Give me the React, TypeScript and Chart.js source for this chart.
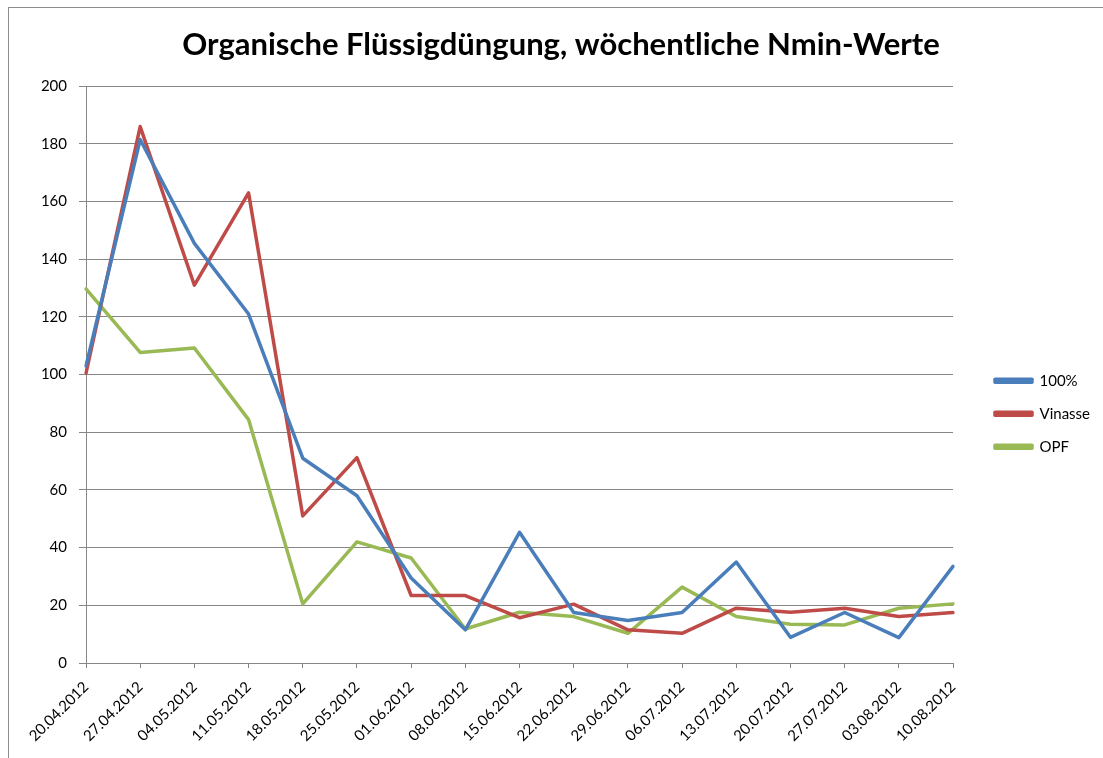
import React, { useEffect, useRef } from "react";
import { Chart, registerables } from "chart.js";

Chart.register(...registerables);

const categories = [
  "20.04.2012", "27.04.2012", "04.05.2012", "11.05.2012", "18.05.2012", "25.05.2012",
  "01.06.2012", "08.06.2012", "15.06.2012", "22.06.2012", "29.06.2012", "06.07.2012",
  "13.07.2012", "20.07.2012", "27.07.2012", "03.08.2012", "10.08.2012",
];
const values100 = [103, 181.5, 145.5, 121, 71, 58, 29.5, 11.5, 45.3, 17.5, 14.7, 17.5, 35, 8.9, 17.5, 8.8, 33.5];
const valuesVinasse = [100.5, 186, 131, 163, 51, 71.2, 23.4, 23.4, 15.7, 20.4, 11.5, 10.3, 19, 17.6, 19, 16.1, 17.5];
const valuesOPF = [129.7, 107.7, 109.2, 84.4, 20.5, 42, 36.4, 11.8, 17.6, 16.1, 10.3, 26.3, 16.1, 13.4, 13.2, 19, 20.5];
const seriesNames = ["100%", "Vinasse", "OPF"];
const seriesColors = ["#4A7EBB", "#BE4B48", "#98B954"];
const titleText = "Organische Flüssigdüngung, wöchentliche Nmin-Werte";

const GRID = "#868686";

export default function App() {
  const ref = useRef<HTMLCanvasElement | null>(null);
  useEffect(() => {
    document.documentElement.style.overflow = "hidden";
    document.body.style.overflow = "hidden";
    const canvas = ref.current!;
    const all = [values100, valuesVinasse, valuesOPF];
    const chart = new Chart(canvas, {
      type: "line",
      data: {
        labels: categories,
        datasets: all.map((d, i) => ({
          label: seriesNames[i],
          data: d,
          borderColor: seriesColors[i],
          backgroundColor: seriesColors[i],
          borderWidth: 3.5,
          pointRadius: 0,
          tension: 0,
          borderJoinStyle: "round" as const,
          borderCapStyle: "round" as const,
          yAxisID: "y",
        })),
      },
      options: {
        responsive: false,
        animation: false,
        devicePixelRatio: 1,
        layout: { padding: { left: 13, right: 3, top: 0, bottom: 0 } },
        plugins: {
          tooltip: { enabled: false },
          title: {
            display: true,
            text: titleText,
            color: "#000",
            font: { family: "Lato", size: 31, weight: "bold" },
            padding: { top: 18, bottom: 23 },
          },
          legend: {
            position: "right",
            fullSize: false,
            align: "center",
            title: { display: true, text: "", font: { size: 12 }, padding: { top: 32, bottom: 32 } },
            labels: {
              boxWidth: 37,
              boxHeight: 3,
              padding: 18,
              color: "#000",
              font: { family: "Lato", size: 15 },
            },
          },
        },
        scales: {
          x: {
            type: "category",
            offset: false,
            grid: { display: true, drawOnChartArea: false, drawTicks: true, tickLength: 5, color: GRID },
            border: { display: true, color: GRID },
            ticks: {
              autoSkip: false,
              maxRotation: 45,
              minRotation: 45,
              color: "#000",
              font: { family: "Lato", size: 15 },
              padding: 10,
            },
            afterFit: (s: any) => { s.height = 95; },
          },
          y: {
            type: "linear",
            position: "left",
            min: 0,
            max: 200,
            ticks: { stepSize: 20, color: "#000", font: { family: "Lato", size: 15 }, padding: 12 },
            grid: { color: GRID, tickLength: 7 },
            border: { display: true, color: GRID },
            afterFit: (s: any) => { s.width = 64; },
          },
          yR: {
            type: "linear",
            position: "right",
            display: true,
            ticks: { display: false },
            grid: { display: false },
            border: { display: false },
            afterFit: (s: any) => { s.width = 24; },
          },
        },
      },
    });
    return () => chart.destroy();
  }, []);
  return (
    <div style={{ position: "absolute", left: 8, top: 7, borderLeft: "1px solid #8c8c8c", borderTop: "1px solid #8c8c8c", width: 1094, height: 750 }}>
      <canvas ref={ref} width={1094} height={750} style={{ display: "block" }} />
    </div>
  );
}
